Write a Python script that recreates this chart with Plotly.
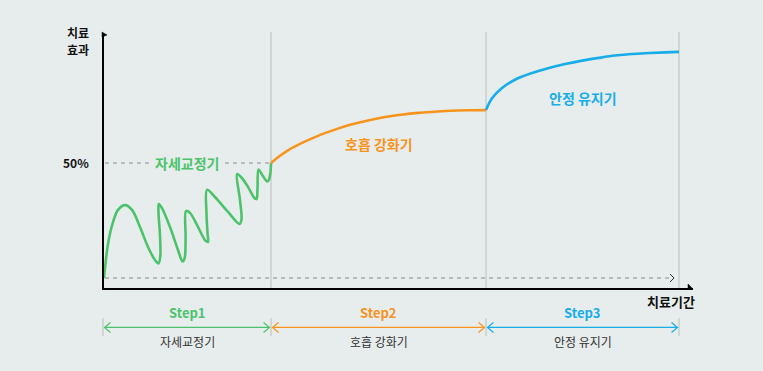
import plotly.graph_objects as go

# ---------------- data ----------------
STEP_BOUNDS = [0, 168, 383, 576]          # treatment period boundaries (time units)
STEP_LABELS = ["Step1", "Step2", "Step3"]
PHASE_NAMES = ["자세교정기", "호흡 강화기", "안정 유지기"]
COLORS = ["#4cc36b", "#f7941d", "#17ade9"]

Y_TICK_VALUES = [50]
Y_TICK_TEXT = ["50%"]
Y_TITLE_LINES = ["치료", "효과"]
X_TITLE = "치료기간"

# phase 1: oscillating recovery (posture correction)
green_t = [1, 5, 10, 15, 22, 29, 37, 45, 52, 55.5, 57.3, 57, 55.5, 55.8, 59, 67, 75, 79.5, 81.7,
           82.6, 83, 87, 95, 102, 105, 104.5, 103.5, 104, 112, 125, 136.5, 138.5, 137, 134, 138,
           145, 151, 153.5, 154.5, 155.5, 160, 164, 166, 167.5, 168]
green_y = [0, 14.8, 24.3, 29.6, 31.7, 29.6, 22.2, 13.5, 7.8, 6.3, 9.5, 18.5, 28.5, 32.2, 30.4,
           22.2, 12.2, 7.2, 8.8, 18.0, 29.1, 28.3, 22.2, 16.5, 15.7, 19.5, 28.0, 38.3, 35.2, 28.7,
           23.5, 25.5, 33.9, 45.2, 43.9, 39.6, 35.0, 34.3, 38.5, 47.2, 44.3, 42.0, 42.8, 46.1, 50.0]

# phase 2: breathing reinforcement
orange_t = [168, 175, 185, 198, 215, 232, 248, 265, 282, 298, 315, 332, 348, 365, 383]
orange_y = [50, 52.5, 55.5, 58.5, 61.8, 64.5, 66.7, 68.5, 70.0, 71.0, 71.8, 72.3, 72.7, 72.9, 73.0]

# phase 3: stable maintenance
blue_t = [383, 389, 399, 412, 429, 446, 462, 479, 496, 512, 529, 546, 562, 576]
blue_y = [73.0, 78.1, 82.6, 86.2, 89.1, 91.3, 93.0, 94.5, 95.7, 96.7, 97.4, 97.8, 98.1, 98.3]

# ---------------- layout constants ----------------
BG = "#e7eded"
FONT = "Noto Sans CJK KR, Noto Sans, sans-serif"
Y_AXIS_TOP = 106.5
Y_AXIS_BOTTOM = -4.78
X_AXIS_END = 590
PX_PER_Y = 2.3   # pixels per y unit (for small decoration sizes)

fig = go.Figure()

for t, y, c, sm in [(green_t, green_y, COLORS[0], 0.9), (orange_t, orange_y, COLORS[1], 1.0),
                    (blue_t, blue_y, COLORS[2], 1.0)]:
    fig.add_trace(go.Scatter(x=t, y=y, mode="lines",
                             line=dict(color=c, width=2.6, shape="spline", smoothing=sm),
                             hoverinfo="skip", showlegend=False))

shapes = []
# vertical separators
for b in STEP_BOUNDS[1:]:
    shapes.append(dict(type="line", x0=b, x1=b, y0=Y_AXIS_BOTTOM, y1=107, layer="below",
                       line=dict(color="#bdbdbd", width=1)))
# 50% dashed guide
shapes.append(dict(type="line", x0=2, x1=STEP_BOUNDS[1], y0=50, y1=50, layer="below",
                   line=dict(color="#8a8a8a", width=1, dash="4px,4px")))
# baseline dashed guide with chevron
shapes.append(dict(type="line", x0=2, x1=570, y0=0, y1=0, layer="below",
                   line=dict(color="#8a8a8a", width=1, dash="4px,4px")))
hy = 4 / PX_PER_Y
shapes.append(dict(type="path", path=f"M 567,{hy} L 571,0 L 567,{-hy}",
                   line=dict(color="#333333", width=1)))
# axes
shapes.append(dict(type="line", x0=0, x1=0, y0=Y_AXIS_BOTTOM, y1=Y_AXIS_TOP,
                   line=dict(color="#000000", width=2)))
shapes.append(dict(type="line", x0=-1, x1=X_AXIS_END, y0=Y_AXIS_BOTTOM, y1=Y_AXIS_BOTTOM,
                   line=dict(color="#000000", width=2)))
shapes.append(dict(type="path",
                   path=f"M -1,{Y_AXIS_TOP + 1/PX_PER_Y} L 4,{Y_AXIS_TOP - 2/PX_PER_Y} L -1,{Y_AXIS_TOP - 4/PX_PER_Y} Z",
                   fillcolor="#000000", line=dict(color="#000000", width=0.5)))
shapes.append(dict(type="path",
                   path=f"M {X_AXIS_END-5},{Y_AXIS_BOTTOM + 5/PX_PER_Y} L {X_AXIS_END},{Y_AXIS_BOTTOM} L {X_AXIS_END-5},{Y_AXIS_BOTTOM} Z",
                   fillcolor="#000000", line=dict(color="#000000", width=0.5)))

# step brackets below the axis
ARROW_Y = -21.5
TICK_Y0, TICK_Y1 = -17.4, -25.2
for b in STEP_BOUNDS:
    shapes.append(dict(type="line", x0=b, x1=b, y0=TICK_Y0, y1=TICK_Y1,
                       line=dict(color="#bdbdbd", width=1)))
ch_w, ch_h = 6, 5 / PX_PER_Y
for i in range(3):
    a, b = STEP_BOUNDS[i] + 1.5, STEP_BOUNDS[i + 1] - 1.5
    c = COLORS[i]
    shapes.append(dict(type="line", x0=a, x1=b, y0=ARROW_Y, y1=ARROW_Y, line=dict(color=c, width=1.2)))
    shapes.append(dict(type="path", path=f"M {a+ch_w},{ARROW_Y+ch_h} L {a},{ARROW_Y} L {a+ch_w},{ARROW_Y-ch_h}",
                       line=dict(color=c, width=1.2)))
    shapes.append(dict(type="path", path=f"M {b-ch_w},{ARROW_Y+ch_h} L {b},{ARROW_Y} L {b-ch_w},{ARROW_Y-ch_h}",
                       line=dict(color=c, width=1.2)))

annotations = []
mids = [(STEP_BOUNDS[i] + STEP_BOUNDS[i + 1]) / 2 for i in range(3)]
PHASE_LABEL_Y = [50, 58.3, 78.3]
for i in range(3):
    annotations.append(dict(x=mids[i], y=PHASE_LABEL_Y[i], text=f"<b>{PHASE_NAMES[i]}</b>", showarrow=False,
                            font=dict(family=FONT, size=14, color=COLORS[i]),
                            bgcolor=BG if i == 0 else None, borderpad=2))
    annotations.append(dict(x=mids[i], y=-15.2, text=f"<b>{STEP_LABELS[i]}</b>", showarrow=False,
                            font=dict(family=FONT, size=13, color=COLORS[i])))
    annotations.append(dict(x=mids[i], y=-27.8, text=PHASE_NAMES[i], showarrow=False,
                            font=dict(family=FONT, size=12, color="#333333")))
for v, txt in zip(Y_TICK_VALUES, Y_TICK_TEXT):
    annotations.append(dict(x=-12, y=v, text=f"<b>{txt}</b>", showarrow=False, xanchor="right",
                            font=dict(family=FONT, size=12, color="#111111")))
for line_text, ly in zip(Y_TITLE_LINES, [106.6, 99.5]):
    annotations.append(dict(x=-25.5, y=ly, text=f"<b>{line_text}</b>", showarrow=False, borderpad=0,
                            font=dict(family=FONT, size=12, color="#111111")))
annotations.append(dict(x=568, y=-10.0, text=f"<b>{X_TITLE}</b>", showarrow=False,
                        font=dict(family=FONT, size=13, color="#111111")))

fig.update_layout(
    width=763, height=371,
    margin=dict(l=60, r=40, t=20, b=20),
    paper_bgcolor=BG, plot_bgcolor=BG,
    xaxis=dict(range=[-43, 620], visible=False, fixedrange=True),
    yaxis=dict(range=[-31.74, 112.17], visible=False, fixedrange=True),
    shapes=shapes, annotations=annotations, showlegend=False,
)

fig.write_html("out.html", config={"displayModeBar": False},
               post_script="document.body.style.margin='0';document.body.style.overflow='hidden';")
